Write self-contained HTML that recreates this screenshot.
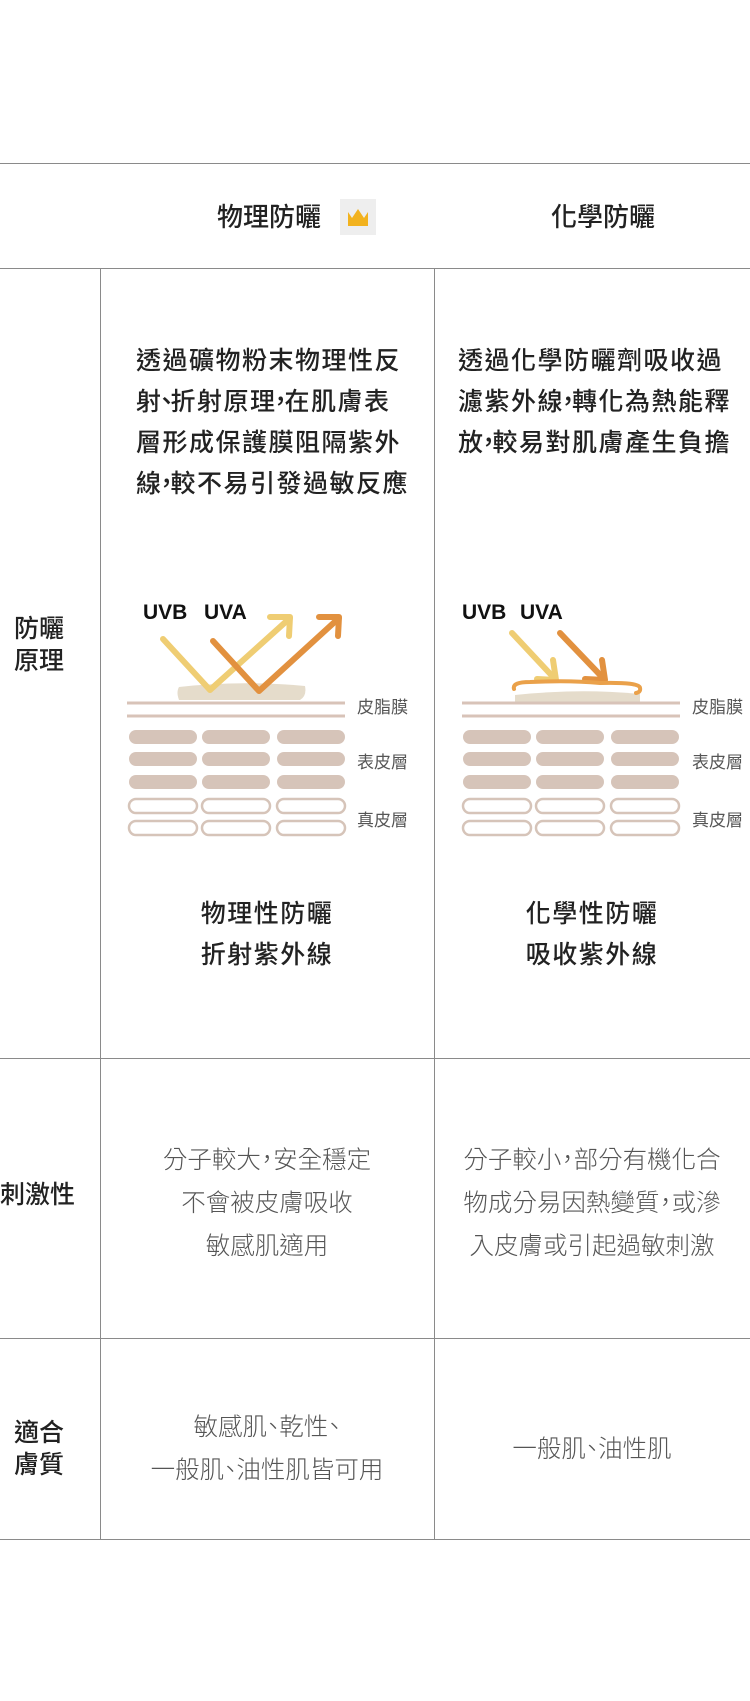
<!DOCTYPE html>
<html><head><meta charset="utf-8"><style>
*{margin:0;padding:0;box-sizing:border-box}
body{width:750px;height:1701px;background:#fff;position:relative;overflow:hidden;font-family:"Liberation Sans","Noto Sans CJK TC",sans-serif;color:#222}
.h{position:absolute;left:0;width:750px;height:0;border-top:1.5px solid #8a8a8a}
.v{position:absolute;top:269px;height:1270px;width:0;border-left:1.5px solid #8a8a8a}
.t{position:absolute;white-space:nowrap}
.c{position:absolute;text-align:center;white-space:nowrap}
.b{font-weight:500;font-size:25px;color:#222;line-height:41px;letter-spacing:1.5px}
.l{font-weight:300;font-size:24.5px;color:#555;line-height:43px}
.lab{font-size:25px;font-weight:500;line-height:32px;color:#222}
.p{display:inline-block;width:.5em;text-indent:-.25em;overflow:visible}
.b .p{width:.32em;text-indent:-.34em;letter-spacing:0}
</style></head><body>
<div class="h" style="top:163px"></div>
<div class="h" style="top:268px"></div>
<div class="h" style="top:1058px"></div>
<div class="h" style="top:1338px"></div>
<div class="h" style="top:1539px"></div>
<div class="v" style="left:100px"></div>
<div class="v" style="left:434px"></div>

<div class="t" style="left:217px;top:200px;font-size:26px;font-weight:500;line-height:34px">物理防曬</div>
<div style="position:absolute;left:340px;top:199px;width:36px;height:36px;background:#eee"></div>
<svg style="position:absolute;left:340px;top:199px" width="36" height="36"><polygon points="8,13 12,19 18,10 24,19 28,13 28,27 8,27" fill="#f2b21e"/></svg>
<div class="t" style="left:551px;top:200px;font-size:26px;font-weight:500;line-height:34px">化學防曬</div>

<div class="t lab" style="left:14px;top:613px">防曬<br>原理</div>
<div class="t lab" style="left:0px;top:1179px">刺激性</div>
<div class="t lab" style="left:14px;top:1417px">適合<br>膚質</div>

<div class="t b" style="left:136px;top:341px">透過礦物粉末物理性反<br>射<span class="p">、</span>折射原理<span class="p">，</span>在肌膚表<br>層形成保護膜阻隔紫外<br>線<span class="p">，</span>較不易引發過敏反應</div>
<div class="t b" style="left:458px;top:341px">透過化學防曬劑吸收過<br>濾紫外線<span class="p">，</span>轉化為熱能釋<br>放<span class="p">，</span>較易對肌膚產生負擔</div>

<svg style="position:absolute;left:0;top:590px" width="750" height="260">
<g font-family="Liberation Sans,sans-serif" font-weight="bold" font-size="21" fill="#111">
<text x="143" y="29">UVB</text><text x="204" y="29">UVA</text>
<text x="462" y="29">UVB</text><text x="520" y="29">UVA</text></g>
<g fill="none" stroke-linecap="round" stroke-linejoin="round" stroke-width="6">
<path d="M179,97 Q240,90 305,96 Q307,106 300,110 L179,110 Q176,102 179,97Z" fill="#e5dccb" stroke="none"/>
<polyline points="163,49 210,100 290,28" stroke="#efcd73"/><polyline points="270,27 290,27 289,46" stroke="#efcd73"/>
<polyline points="213,51 259,101 339,28" stroke="#e2913f"/><polyline points="319,27 339,27 338,46" stroke="#e2913f"/>
<path d="M515,105 Q580,98 640,104 L640,112 L515,112Z" fill="#e5dccb" stroke="none"/>
<line x1="512" y1="43" x2="555" y2="89" stroke="#efcd73"/><polyline points="537,89 556,90 553,70" stroke="#efcd73"/>
<line x1="560" y1="43" x2="604" y2="89" stroke="#e2913f"/><polyline points="585,89 605,90 602,70" stroke="#e2913f"/>
<path d="M514,99 Q512,92 530,92 Q570,90 600,93 Q640,92 640,98 Q641,102 636,103" stroke="#eaa14a" stroke-width="4"/>
</g>
<g stroke="#d8c3b8" stroke-width="3">
<line x1="127" y1="113" x2="345" y2="113"/><line x1="127" y1="126" x2="345" y2="126"/>
<line x1="462" y1="113" x2="680" y2="113"/><line x1="462" y1="126" x2="680" y2="126"/></g>
<g fill="#d6c4b9">
<rect x="129" y="140" width="68" height="14" rx="7"/><rect x="202" y="140" width="68" height="14" rx="7"/><rect x="277" y="140" width="68" height="14" rx="7"/>
<rect x="129" y="162" width="68" height="14" rx="7"/><rect x="202" y="162" width="68" height="14" rx="7"/><rect x="277" y="162" width="68" height="14" rx="7"/>
<rect x="129" y="185" width="68" height="14" rx="7"/><rect x="202" y="185" width="68" height="14" rx="7"/><rect x="277" y="185" width="68" height="14" rx="7"/>
<rect x="463" y="140" width="68" height="14" rx="7"/><rect x="536" y="140" width="68" height="14" rx="7"/><rect x="611" y="140" width="68" height="14" rx="7"/>
<rect x="463" y="162" width="68" height="14" rx="7"/><rect x="536" y="162" width="68" height="14" rx="7"/><rect x="611" y="162" width="68" height="14" rx="7"/>
<rect x="463" y="185" width="68" height="14" rx="7"/><rect x="536" y="185" width="68" height="14" rx="7"/><rect x="611" y="185" width="68" height="14" rx="7"/></g>
<g fill="none" stroke="#d6c4b9" stroke-width="2.5">
<rect x="129" y="209" width="68" height="14" rx="7"/><rect x="202" y="209" width="68" height="14" rx="7"/><rect x="277" y="209" width="68" height="14" rx="7"/>
<rect x="129" y="231" width="68" height="14" rx="7"/><rect x="202" y="231" width="68" height="14" rx="7"/><rect x="277" y="231" width="68" height="14" rx="7"/>
<rect x="463" y="209" width="68" height="14" rx="7"/><rect x="536" y="209" width="68" height="14" rx="7"/><rect x="611" y="209" width="68" height="14" rx="7"/>
<rect x="463" y="231" width="68" height="14" rx="7"/><rect x="536" y="231" width="68" height="14" rx="7"/><rect x="611" y="231" width="68" height="14" rx="7"/></g>
<g font-family="Liberation Sans,Noto Sans CJK TC,sans-serif" font-size="17" fill="#555">
<text x="357" y="123">皮脂膜</text><text x="357" y="178">表皮層</text><text x="357" y="236">真皮層</text>
<text x="692" y="123">皮脂膜</text><text x="692" y="178">表皮層</text><text x="692" y="236">真皮層</text></g>
</svg>

<div class="c b" style="left:100px;width:334px;top:894px">物理性防曬<br>折射紫外線</div>
<div class="c b" style="left:434px;width:316px;top:894px">化學性防曬<br>吸收紫外線</div>

<div class="c l" style="left:100px;width:334px;top:1139px">分子較大<span class="p">，</span>安全穩定<br>不會被皮膚吸收<br>敏感肌適用</div>
<div class="c l" style="left:434px;width:316px;top:1139px">分子較小<span class="p">，</span>部分有機化合<br>物成分易因熱變質<span class="p">，</span>或滲<br>入皮膚或引起過敏刺激</div>
<div class="c l" style="left:100px;width:334px;top:1406px">敏感肌<span class="p">、</span>乾性<span class="p">、</span><br>一般肌<span class="p">、</span>油性肌皆可用</div>
<div class="c l" style="left:434px;width:316px;top:1428px">一般肌<span class="p">、</span>油性肌</div>
</body></html>
